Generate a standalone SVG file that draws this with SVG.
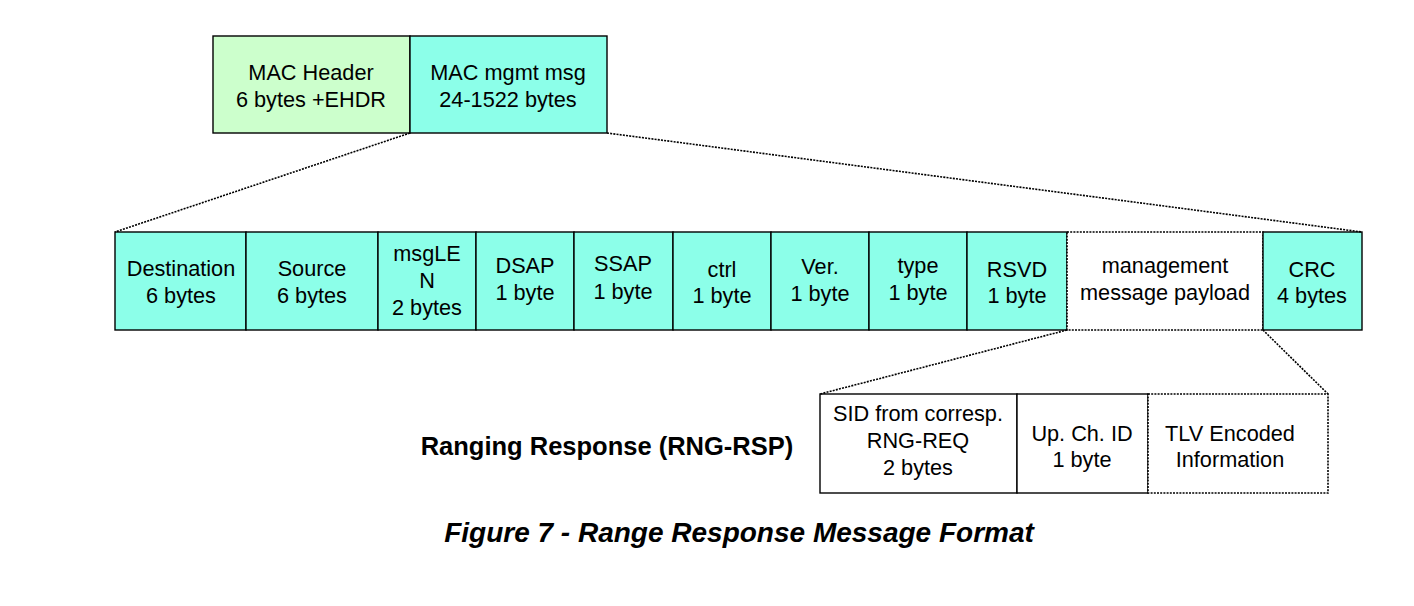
<svg xmlns="http://www.w3.org/2000/svg" width="1414" height="606" viewBox="0 0 1414 606">
<style>
  text { font-family: "Liberation Sans", Arial, sans-serif; font-size: 21.7px; fill: #000; text-anchor: middle; }
  .box { stroke: #000; stroke-width: 1.4; }
  .green { fill: #ccffcc; }
  .cyan { fill: #8cffe9; }
  .white { fill: #fff; }
  .dot { stroke-dasharray: 2 1.2; stroke-width: 1.6; }
  .conn line { stroke: #000; stroke-width: 1.6; stroke-dasharray: 2 1.2; }
  .title { font-weight: bold; font-size: 25.5px; }
  .caption { font-weight: bold; font-style: italic; font-size: 28px; }
</style>
<rect width="1414" height="606" fill="#fff"/>
<g id="mac-header"><rect class="box green" x="213" y="36" width="197" height="97"/><text x="311" y="80">MAC Header</text><text x="311" y="107">6 bytes +EHDR</text></g>
<g id="mac-mgmt"><rect class="box cyan" x="410" y="36" width="197" height="97"/><text x="508" y="80">MAC mgmt msg</text><text x="508" y="107">24-1522 bytes</text></g>

<g id="destination"><rect class="box cyan" x="115" y="232" width="131" height="98"/><text x="181" y="276">Destination</text><text x="181" y="303">6 bytes</text></g>
<g id="source"><rect class="box cyan" x="246" y="232" width="132" height="98"/><text x="312" y="276">Source</text><text x="312" y="303">6 bytes</text></g>
<g id="msglen"><rect class="box cyan" x="378" y="232" width="98" height="98"/><text x="427" y="261">msgLE</text><text x="427" y="288">N</text><text x="427" y="315">2 bytes</text></g>
<g id="dsap"><rect class="box cyan" x="476" y="232" width="98" height="98"/><text x="525" y="273">DSAP</text><text x="525" y="300">1 byte</text></g>
<g id="ssap"><rect class="box cyan" x="574" y="232" width="99" height="98"/><text x="623" y="271">SSAP</text><text x="623" y="299">1 byte</text></g>
<g id="ctrl"><rect class="box cyan" x="673" y="232" width="98" height="98"/><text x="722" y="277">ctrl</text><text x="722" y="303">1 byte</text></g>
<g id="ver"><rect class="box cyan" x="771" y="232" width="98" height="98"/><text x="820" y="274">Ver.</text><text x="820" y="301">1 byte</text></g>
<g id="type"><rect class="box cyan" x="869" y="232" width="98" height="98"/><text x="918" y="273">type</text><text x="918" y="300">1 byte</text></g>
<g id="rsvd"><rect class="box cyan" x="967" y="232" width="100" height="98"/><text x="1017" y="277">RSVD</text><text x="1017" y="303">1 byte</text></g>
<g id="payload"><rect class="box white dot" x="1067" y="232" width="196" height="98"/><text x="1165" y="273">management</text><text x="1165" y="300">message payload</text></g>
<g id="crc"><rect class="box cyan" x="1263" y="232" width="99" height="98"/><text x="1312" y="277">CRC</text><text x="1312" y="303">4 bytes</text></g>

<g id="sid"><rect class="box white" x="820" y="394" width="197" height="99"/><text x="918" y="421">SID from corresp.</text><text x="918" y="448">RNG-REQ</text><text x="918" y="475">2 bytes</text></g>
<g id="upch"><rect class="box white" x="1017" y="394" width="131" height="99"/><text x="1082" y="441">Up. Ch. ID</text><text x="1082" y="467">1 byte</text></g>
<g id="tlv"><rect class="box white dot" x="1148" y="394" width="180" height="99"/><text x="1230" y="441">TLV Encoded</text><text x="1230" y="467">Information</text></g>

<g id="label"><text class="title" x="607" y="455">Ranging Response (RNG-RSP)</text></g>
<g id="caption"><text class="caption" x="739" y="542">Figure 7 - Range Response Message Format</text></g>

<g class="conn" id="connectors">
  <line x1="410" y1="133" x2="115" y2="232"/>
  <line x1="607" y1="133" x2="1362" y2="232"/>
  <line x1="1067" y1="330" x2="820" y2="394"/>
  <line x1="1263" y1="330" x2="1328" y2="394"/>
</g>
</svg>
